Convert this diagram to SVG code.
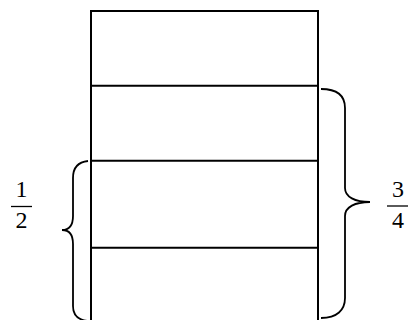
<svg xmlns="http://www.w3.org/2000/svg" width="408" height="320" viewBox="0 0 408 320">
<style>
.box{fill:none;stroke:#000;stroke-width:2}
.brace{fill:none;stroke:#000;stroke-width:1.8}
.num{font-family:"Liberation Serif","Times New Roman",serif;font-size:24px;fill:#000;text-anchor:middle}
.bar{stroke:#000;stroke-width:1.3}
</style>
<rect width="408" height="320" fill="#fff"/>
<g id="rectangle">
<path class="box" d="M91,322 V11 H318 V322"/>
<line class="box" x1="91" y1="85.7" x2="318" y2="85.7"/>
<line class="box" x1="91" y1="160.7" x2="318" y2="160.7"/>
<line class="box" x1="91" y1="247.7" x2="318" y2="247.7"/>
</g>
<g id="connectors">
<path class="brace" d="M88,161 C78,162 73,168 73,178 V216 C73,225 69,230 62,230 C69,230 73,235 73,244 V306 C73,315 78,320 88,321"/>
<path class="brace" d="M321,89 C337,89 345,96 345,108 V188 C345,197 355,202 370,202 C355,202 345,207 345,216 V298 C345,310 337,318 321,318"/>
</g>
<g id="half">
<text class="num" x="21.5" y="197">1</text>
<line class="bar" x1="11" y1="206.5" x2="32" y2="206.5"/>
<text class="num" x="21.5" y="228">2</text>
</g>
<g id="threequarters">
<text class="num" x="398" y="197">3</text>
<line class="bar" x1="387" y1="206" x2="408" y2="206"/>
<text class="num" x="398" y="228">4</text>
</g>
</svg>
